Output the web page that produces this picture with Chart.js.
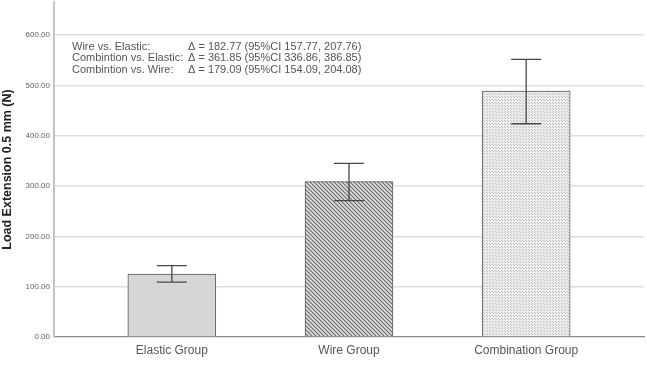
<!DOCTYPE html>
<html lang="en">
<head>
  <title>Load Extension 0.5 mm</title>
  <script src="https://cdn.jsdelivr.net/npm/chart.js"></script>
  <style>
    body { margin: 0; background: #fff; }
    .wrap { width: 647px; height: 387px; position: relative; }
  </style>
</head>
<body>
<div class="wrap">
  <canvas id="loadChart"></canvas>
</div>
<script>
  const categories = ['Elastic Group', 'Wire Group', 'Combination Group'];
  const meanLoad = [125, 309, 489];
  const errLow = [109, 271, 424];
  const errHigh = [142, 345, 552];
  const yTicks = [0, 100, 200, 300, 400, 500, 600];

  const comparisons = ['Wire vs. Elastic:', 'Combintion vs. Elastic:', 'Combintion vs. Wire:'];
  const deltas = ['182.77', '361.85', '179.09'];
  const ciLow = ['157.77', '336.86', '154.09'];
  const ciHigh = ['207.76', '386.85', '204.08'];

  const ctx = document.getElementById('loadChart').getContext('2d');

  function makePattern(size, draw) {
    const c = document.createElement('canvas');
    c.width = size;
    c.height = size;
    draw(c.getContext('2d'), size);
    return ctx.createPattern(c, 'repeat');
  }

  // diagonal hatch for the wire bar
  const hatch = makePattern(4, (p, s) => {
    p.fillStyle = '#dedede';
    p.fillRect(0, 0, s, s);
    p.strokeStyle = '#6a6a6a';
    p.lineWidth = 1.1;
    p.beginPath();
    p.moveTo(-1, -1); p.lineTo(s + 1, s + 1);
    p.moveTo(-1, s - 1); p.lineTo(1, s + 1);
    p.moveTo(s - 1, -1); p.lineTo(s + 1, 1);
    p.stroke();
  });

  // fine dots for the combination bar
  const dots = makePattern(3, (p, s) => {
    p.fillStyle = '#ededed';
    p.fillRect(0, 0, s, s);
    p.fillStyle = '#bcbcbc';
    p.fillRect(0, 0, 1, 1);
    p.fillRect(1, 1, 1, 1);
  });

  const errorBars = {
    id: 'errorBars',
    afterDatasetsDraw(chart) {
      const xs = chart.scales.x, ys = chart.scales.y, c = chart.ctx;
      c.save();
      c.strokeStyle = '#474747';
      c.lineWidth = 1.3;
      meanLoad.forEach((m, i) => {
        const x = xs.getPixelForValue(i);
        const yt = ys.getPixelForValue(errHigh[i]);
        const yb = ys.getPixelForValue(errLow[i]);
        c.beginPath();
        c.moveTo(x, yt); c.lineTo(x, yb);
        c.moveTo(x - 15, yt); c.lineTo(x + 15, yt);
        c.moveTo(x - 15, yb); c.lineTo(x + 15, yb);
        c.stroke();
      });
      c.restore();
    }
  };

  const notes = {
    id: 'notes',
    afterDraw(chart) {
      const c = chart.ctx;
      c.save();
      c.font = '11px "Liberation Sans", Arial, sans-serif';
      c.fillStyle = '#555';
      c.textBaseline = 'alphabetic';
      comparisons.forEach((label, i) => {
        const y = 49.5 + i * 11.7;
        c.fillText(label, 72, y);
        const x2 = Math.max(188, 72 + c.measureText(label + ' ').width);
        c.fillText('\u0394 = ' + deltas[i] + ' (95%CI ' + ciLow[i] + ', ' + ciHigh[i] + ')', x2, y);
      });
      c.restore();
    }
  };

  new Chart(ctx, {
    type: 'bar',
    data: {
      datasets: [{
        data: meanLoad.map((v, i) => ({ x: i, y: v })),
        backgroundColor: ['#d6d6d6', hatch, dots],
        borderColor: '#5a5a5a',
        borderWidth: 1,
        barThickness: 88
      }]
    },
    options: {
      responsive: true,
      maintainAspectRatio: false,
      animation: false,
      layout: { padding: { top: 2, right: 3, left: 0, bottom: 0 } },
      plugins: {
        legend: { display: false },
        tooltip: { enabled: false }
      },
      scales: {
        x: {
          type: 'linear',
          offset: false,
          min: -0.665,
          max: 2.665,
          afterBuildTicks: s => { s.ticks = categories.map((c, i) => ({ value: i })); },
          afterFit: s => { s.height = 50; s.paddingLeft = 0; s.paddingRight = 0; },
          grid: { drawOnChartArea: false, drawTicks: false, offset: false },
          border: { display: true, color: '#8a8a8a', width: 1.3 },
          ticks: {
            autoSkip: false,
            maxRotation: 0,
            padding: 6,
            color: '#555',
            font: { family: '"Liberation Sans", Arial', size: 12 },
            callback: v => categories[v]
          }
        },
        y: {
          min: 0,
          max: 666,
          afterBuildTicks: s => { s.ticks = yTicks.map(v => ({ value: v })); },
          afterFit: s => { s.width = 54; s.paddingTop = 0; s.paddingBottom = 0; },
          grid: {
            drawTicks: false,
            lineWidth: 1.5,
            color: c => c.tick && c.tick.value === 0 ? 'rgba(0,0,0,0)' : '#dedede'
          },
          border: { display: true, color: '#c4c4c4', width: 2 },
          ticks: {
            padding: 4,
            color: '#5e5e5e',
            font: { family: '"Liberation Sans", Arial', size: 8 },
            callback: v => v.toFixed(2)
          },
          title: {
            display: true,
            text: 'Load Extension 0.5 mm (N)',
            color: '#222',
            padding: { top: 0, bottom: 0 },
            font: { family: '"Liberation Sans", Arial', size: 12.5, weight: 'bold' }
          }
        }
      }
    },
    plugins: [errorBars, notes]
  });
</script>
</body>
</html>
